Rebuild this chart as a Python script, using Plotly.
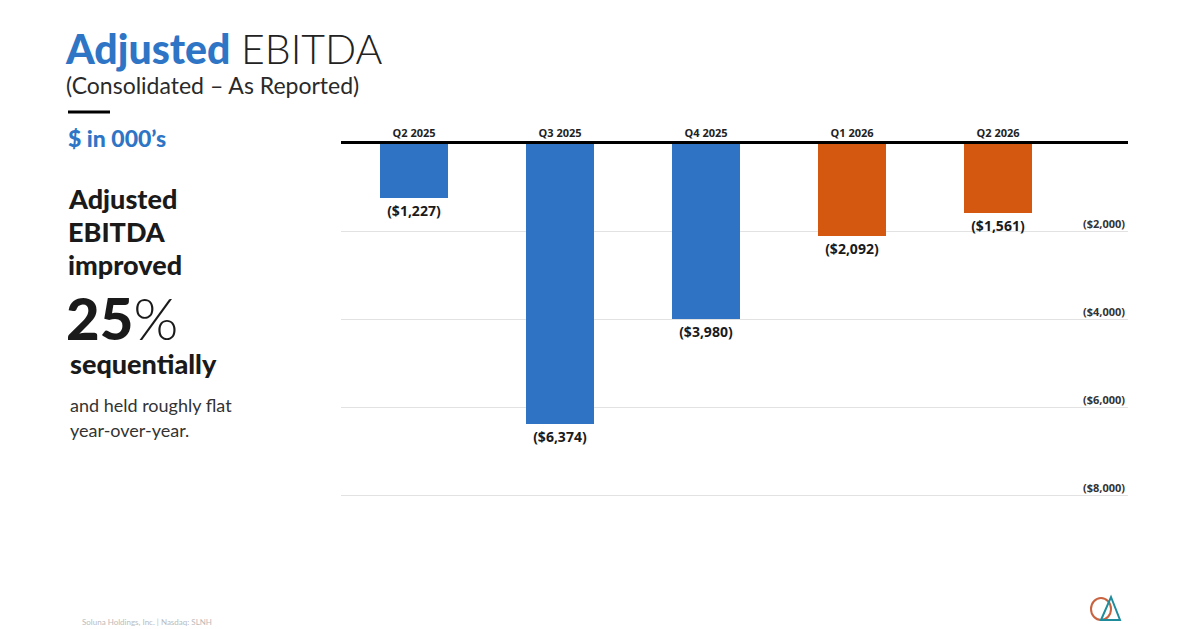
import plotly.graph_objects as go

# data ($ in 000's)
quarters = ["Q2 2025", "Q3 2025", "Q4 2025", "Q1 2026", "Q2 2026"]
ebitda = [-1227, -6374, -3980, -2092, -1561]
bar_colors = ["#2F74C4", "#2F74C4", "#2F74C4", "#D4580F", "#D4580F"]
y_ticks = [-2000, -4000, -6000, -8000]
y_tick_text = ["($2,000)", "($4,000)", "($6,000)", "($8,000)"]

labels = ["(${:,})".format(abs(v)) for v in ebitda]

# page body adds an 8px margin, so work in slide pixels and shift
OFF = 8
L, R, T, B = 341, 1128, 144, 500

fig = go.Figure()
fig.add_trace(go.Bar(
    x=quarters,
    y=ebitda,
    marker=dict(color=bar_colors, line=dict(width=0)),
    width=0.46,
    text=labels,
    textposition="outside",
    textfont=dict(family="Open Sans", size=14, color="#1a1a1a", weight="bold"),
    cliponaxis=False,
    hoverinfo="skip",
))

fig.update_layout(
    width=1200 - OFF, height=629 - OFF,
    paper_bgcolor="white", plot_bgcolor="white",
    margin=dict(l=L - OFF, r=1200 - R, t=T - OFF, b=629 - B),
    showlegend=False,
    bargap=0,
    xaxis=dict(
        side="top",
        range=[-0.5, 4.89],
        showline=True, linecolor="black", linewidth=3,
        showgrid=False, ticks="",
        tickfont=dict(family="Open Sans", size=11, color="#222", weight="bold"),
        fixedrange=True,
    ),
    yaxis=dict(
        side="right",
        range=[-8100, 0],
        tickvals=y_ticks, ticktext=y_tick_text,
        ticklabelposition="inside top",
        showgrid=True, gridcolor="#E2E2E2", gridwidth=1,
        zeroline=False, showline=False, ticks="",
        tickfont=dict(family="Open Sans", size=11, color="#333", weight="bold"),
        fixedrange=True,
    ),
)

ann = []


def px(xp, yp):
    # slide pixel -> paper coords
    return (xp - L) / (R - L), (B - yp) / (B - T)


def txt(xp, yp, s, size, color="#1a1a1a", weight="normal", anchor="left"):
    x0, y0 = px(xp, yp)
    ann.append(dict(xref="paper", yref="paper", x=x0, y=y0, text=s, showarrow=False,
                    xanchor=anchor, yanchor="middle",
                    font=dict(family="Lato", size=size, color=color, weight=weight)))


txt(63, 48, "<span style='color:#2E75C6;font-weight:900'>Adjusted</span> "
    "<span style='color:#222;font-weight:300'>EBITDA</span>", 41)
txt(64, 85, "(Consolidated – As Reported)", 23, "#2a2a2a")
txt(66, 138, "$ in 000’s", 23, "#2E75C6", weight=900)
for s, yp in [("Adjusted", 198), ("EBITDA", 231), ("improved", 264)]:
    txt(66, yp, s, 27, weight=900)
txt(64, 317, "<span style='font-weight:900'>25</span><span style='font-weight:300'>%</span>", 58)
txt(68, 363, "sequentially", 27, weight=900)
txt(68, 405, "and held roughly flat", 18, "#333")
txt(68, 430, "year-over-year.", 18, "#333")
txt(80, 622, "Soluna Holdings, Inc. | Nasdaq: SLNH", 8, "#bbbbbb")
fig.update_layout(annotations=ann)

# divider dash under the subtitle
p1, p2 = px(68, 112), px(110, 112)
fig.add_shape(type="line", xref="paper", yref="paper",
              x0=p1[0], x1=p2[0], y0=p1[1], y1=p2[1],
              line=dict(color="black", width=3))

# small logo in the corner
c1, c2 = px(1091, 620), px(1111, 598)
fig.add_shape(type="circle", xref="paper", yref="paper",
              x0=c1[0], x1=c2[0], y0=c1[1], y1=c2[1],
              line=dict(color="#C9633F", width=2))
a, b, c = px(1101, 620), px(1111, 597), px(1120, 620)
fig.add_shape(type="path", xref="paper", yref="paper",
              path=f"M {a[0]},{a[1]} L {b[0]},{b[1]} L {c[0]},{c[1]} Z",
              line=dict(color="#1F8C9C", width=2))

fig.write_html("out.html")
